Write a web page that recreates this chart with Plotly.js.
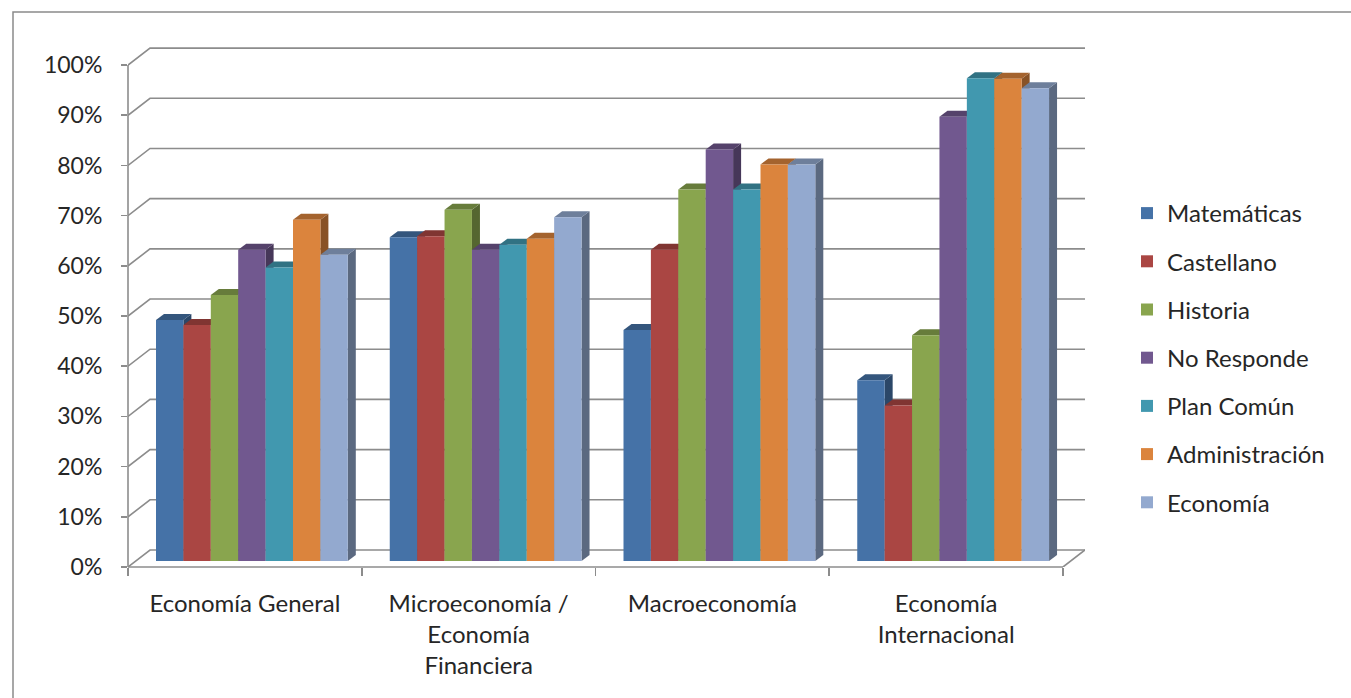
<!DOCTYPE html>
<html><head><meta charset="utf-8">
<script src="https://cdn.plot.ly/plotly-3.0.1.min.js"></script>
<style>html,body{margin:0;padding:0;background:#fff;}#chart{width:1351px;height:698px;}</style>
</head><body><div id="chart"></div>
<script>
// ---- data ----
const categories = ['Economía General', 'Microeconomía /<br>Economía<br>Financiera', 'Macroeconomía', 'Economía<br>Internacional'];
const seriesNames = ['Matemáticas', 'Castellano', 'Historia', 'No Responde', 'Plan Común', 'Administración', 'Economía'];
const matematicas    = [0.48, 0.645, 0.46, 0.36];
const castellano     = [0.47, 0.647, 0.62, 0.31];
const historia       = [0.53, 0.70, 0.74, 0.45];
const noResponde     = [0.62, 0.62, 0.82, 0.885];
const planComun      = [0.585, 0.63, 0.74, 0.962];
const administracion = [0.68, 0.642, 0.79, 0.961];
const economia       = [0.61, 0.685, 0.79, 0.942];
const tickValues = [0, 0.1, 0.2, 0.3, 0.4, 0.5, 0.6, 0.7, 0.8, 0.9, 1.0];
const tickLabels = ['0%', '10%', '20%', '30%', '40%', '50%', '60%', '70%', '80%', '90%', '100%'];

// ---- styling ----
const seriesValues = [matematicas, castellano, historia, noResponde, planComun, administracion, economia];
const colors = ['#4572A7', '#AA4643', '#89A54E', '#71588F', '#4198AF', '#DB843D', '#93A9CF'];
const FONT = 'Lato, "Open Sans", sans-serif';
const TXT = '#262626';
const GRID = '#8c8c8c';

// geometry (in axis units)
const pxX = 233.75;           // px per category
const W = 957, H = 522;       // plot size in px
const yMax = 1.04;
const pxY = H / yMax;
const wallDX = 22 / pxX, wallDY = 17 / pxY;   // back wall offset
const barDX = 8 / pxX, barDY = 6 / pxY;       // bar depth offset
const barW = 27.4 / pxX;
const barStart = -0.5 + 28 / pxX;
const barBase = 6 / pxY;

function shade(hex, f) {
  const n = parseInt(hex.slice(1), 16);
  const r = Math.round(((n >> 16) & 255) * f), g = Math.round(((n >> 8) & 255) * f), b = Math.round((n & 255) * f);
  return 'rgb(' + r + ',' + g + ',' + b + ')';
}

const traces = seriesNames.map((name, i) => ({
  type: 'bar',
  name: name,
  legendgroup: name,
  x: categories,
  y: seriesValues[i],
  base: barBase,
  width: barW,
  offset: barStart + i * barW,
  marker: { color: colors[i], line: { width: 0 } },
  hoverinfo: 'skip'
}));

const shapes = [];
// outer frame
shapes.push({ type: 'rect', xref: 'paper', yref: 'paper',
  x0: (13 - 128) / W, x1: (1360 - 128) / W, y0: (567 - 712) / H, y1: (567 - 12) / H,
  line: { color: '#8a8a8a', width: 1.5 }, layer: 'below' });
// back wall gridlines with left-wall diagonal
tickValues.forEach(v => {
  shapes.push({ type: 'path', xref: 'x', yref: 'y', layer: 'below',
    path: 'M ' + (-0.5) + ',' + v + ' L ' + (-0.5 + wallDX) + ',' + (v + wallDY) + ' L ' + (3.5 + wallDX) + ',' + (v + wallDY),
    line: { color: GRID, width: 1.6 } });
});
// floor right diagonal
shapes.push({ type: 'line', xref: 'x', yref: 'y', layer: 'below',
  x0: 3.5, y0: 0, x1: 3.5 + wallDX, y1: wallDY, line: { color: GRID, width: 1.6 } });
// front axis lines
shapes.push({ type: 'line', xref: 'paper', yref: 'y', x0: 0, x1: 0, y0: 0, y1: 1, line: { color: GRID, width: 1.6 } });
shapes.push({ type: 'line', xref: 'x', yref: 'paper', x0: -0.5, x1: 3.5, y0: 0, y1: 0, line: { color: GRID, width: 1.6 } });

// 3D faces of bars (side + top), left to right
categories.forEach((c, ci) => {
  seriesValues.forEach((vals, si) => {
    const xl = ci + barStart + si * barW, xr = xl + barW;
    const top = barBase + vals[ci];
    shapes.push({ type: 'path', xref: 'x', yref: 'y', layer: 'below',
      path: 'M ' + xr + ',' + barBase + ' L ' + (xr + barDX) + ',' + (barBase + barDY) + ' L ' + (xr + barDX) + ',' + (top + barDY) + ' L ' + xr + ',' + top + ' Z',
      fillcolor: shade(colors[si], 0.62), line: { width: 0 } });
    shapes.push({ type: 'path', xref: 'x', yref: 'y', layer: 'below',
      path: 'M ' + xl + ',' + top + ' L ' + (xl + barDX) + ',' + (top + barDY) + ' L ' + (xr + barDX) + ',' + (top + barDY) + ' L ' + xr + ',' + top + ' Z',
      fillcolor: shade(colors[si], 0.75), line: { width: 0 } });
  });
});

const layout = {
  width: 1351, height: 698,
  margin: { l: 128, r: 1351 - 128 - W, t: 698 - 131 - H, b: 131, pad: 0 },
  paper_bgcolor: '#ffffff', plot_bgcolor: 'rgba(0,0,0,0)',
  font: { family: FONT, size: 23, color: TXT },
  barmode: 'overlay',
  showlegend: true,
  legend: { x: (1127 - 128) / W, xanchor: 'left', y: (567 - 191) / H, yanchor: 'top',
    traceorder: 'grouped', tracegroupgap: 14, font: { family: FONT, size: 24, color: TXT },
    bgcolor: 'rgba(0,0,0,0)' },
  xaxis: { type: 'category', range: [-0.5, 3.5 + wallDX], tickson: 'boundaries', ticks: 'outside', ticklen: 8,
    tickwidth: 1.6, tickcolor: GRID, showline: false, showgrid: false, zeroline: false, ticklabelstandoff: 20,
    tickfont: { family: FONT, size: 24, color: TXT }, fixedrange: true },
  yaxis: { range: [0, yMax], tickvals: tickValues, ticktext: tickLabels, ticks: 'outside', ticklen: 6,
    tickwidth: 1.6, tickcolor: GRID, showline: false, showgrid: false, zeroline: false, ticklabelstandoff: 14,
    tickfont: { family: FONT, size: 23, color: TXT }, fixedrange: true },
  shapes: shapes
};

Plotly.newPlot('chart', traces, layout, { displayModeBar: false, staticPlot: true });
</script>
</body></html>
